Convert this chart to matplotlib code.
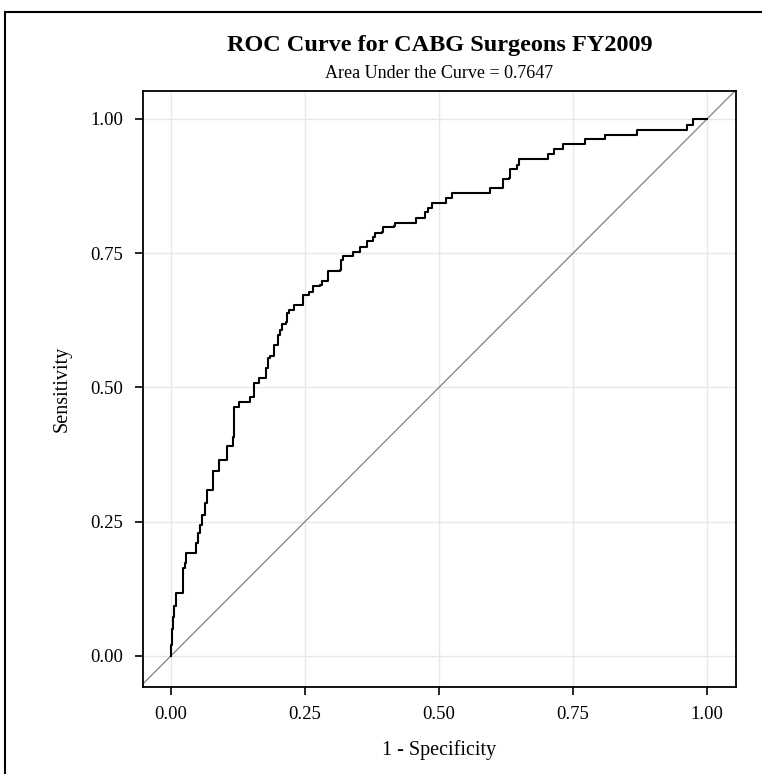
import matplotlib.pyplot as plt
from matplotlib.patches import Rectangle

plt.rcParams['font.family'] = ['Liberation Serif', 'DejaVu Serif']

# ROC curve vertices (1 - specificity, sensitivity)
fpr = [0.0, 0.001, 0.002, 0.003, 0.005, 0.009, 0.021, 0.023, 0.026, 0.029, 0.043,
       0.047, 0.051, 0.054, 0.058, 0.063, 0.067, 0.067, 0.076, 0.079, 0.090, 0.090,
       0.104, 0.105, 0.113, 0.116, 0.118, 0.127, 0.127, 0.144, 0.147, 0.154, 0.155,
       0.163, 0.165, 0.175, 0.177, 0.181, 0.185, 0.192, 0.200, 0.203, 0.207, 0.214,
       0.217, 0.221, 0.229, 0.244, 0.247, 0.256, 0.258, 0.265, 0.278, 0.281, 0.287,
       0.293, 0.315, 0.318, 0.321, 0.339, 0.340, 0.351, 0.352, 0.365, 0.366, 0.374,
       0.377, 0.381, 0.393, 0.395, 0.417, 0.418, 0.455, 0.457, 0.471, 0.474, 0.480,
       0.487, 0.513, 0.514, 0.523, 0.525, 0.594, 0.595, 0.617, 0.620, 0.630, 0.632,
       0.644, 0.645, 0.649, 0.650, 0.702, 0.704, 0.713, 0.714, 0.731, 0.732, 0.770,
       0.772, 0.808, 0.809, 0.869, 0.870, 0.962, 0.963, 0.973, 0.974, 1.0]
tpr = [0.0, 0.020, 0.050, 0.073, 0.092, 0.117, 0.117, 0.163, 0.173, 0.191, 0.191,
       0.210, 0.228, 0.244, 0.263, 0.284, 0.302, 0.309, 0.309, 0.345, 0.345, 0.364,
       0.364, 0.390, 0.390, 0.408, 0.463, 0.463, 0.472, 0.472, 0.482, 0.482, 0.509,
       0.509, 0.518, 0.518, 0.536, 0.554, 0.559, 0.579, 0.598, 0.607, 0.619, 0.622,
       0.638, 0.645, 0.654, 0.654, 0.672, 0.672, 0.678, 0.688, 0.691, 0.699, 0.699,
       0.716, 0.719, 0.737, 0.745, 0.745, 0.753, 0.753, 0.762, 0.763, 0.772, 0.772,
       0.781, 0.788, 0.790, 0.798, 0.800, 0.807, 0.807, 0.815, 0.815, 0.827, 0.834,
       0.843, 0.844, 0.852, 0.852, 0.862, 0.862, 0.871, 0.871, 0.888, 0.890, 0.906,
       0.906, 0.915, 0.915, 0.925, 0.925, 0.935, 0.935, 0.944, 0.944, 0.953, 0.953,
       0.962, 0.962, 0.971, 0.971, 0.980, 0.980, 0.989, 0.989, 1.0, 1.0]

ticks = [0.0, 0.25, 0.5, 0.75, 1.0]
tick_labels = ['0.00', '0.25', '0.50', '0.75', '1.00']
auc = 0.7647

fig = plt.figure(figsize=(7.62, 7.74), dpi=100)
ax = fig.add_axes([0.1877, 0.1124, 0.7782, 0.770])

# outer frame (only top and left edges visible in the original)
fig.patches.append(Rectangle((0.0066, -0.2), 1.2, 0.9845 + 0.2, fill=False,
                             lw=1.5, edgecolor='black', transform=fig.transFigure))

lim = (-0.052, 1.054)
ax.plot(lim, lim, color='#808080', lw=0.9, zorder=2)
ax.plot(fpr, tpr, color='black', lw=1.5, drawstyle='steps-post', zorder=3)

ax.set_xlim(lim)
ax.set_ylim(-0.058, 1.052)
ax.set_xticks(ticks)
ax.set_xticklabels(tick_labels)
ax.set_yticks(ticks)
ax.set_yticklabels(tick_labels)
ax.tick_params(labelsize=13.5, length=6, width=1.2, pad=8)
ax.grid(True, color='#e8e8e8', lw=1.0, zorder=0)
ax.set_axisbelow(True)
for s in ax.spines.values():
    s.set_linewidth(1.3)

ax.set_xlabel('1 - Specificity', fontsize=14.5, labelpad=12)
ax.set_ylabel('Sensitivity', fontsize=14.5, labelpad=14)

xc = 0.1877 + 0.7782 / 2
fig.text(xc, 1 - 45 / 774, 'ROC Curve for CABG Surgeons FY2009', ha='center', va='center',
         fontsize=17.5, fontweight='bold')
fig.text(xc, 1 - 74 / 774, f'Area Under the Curve = {auc:.4f}', ha='center', va='center',
         fontsize=13)

plt.savefig('out.png', dpi=100)
